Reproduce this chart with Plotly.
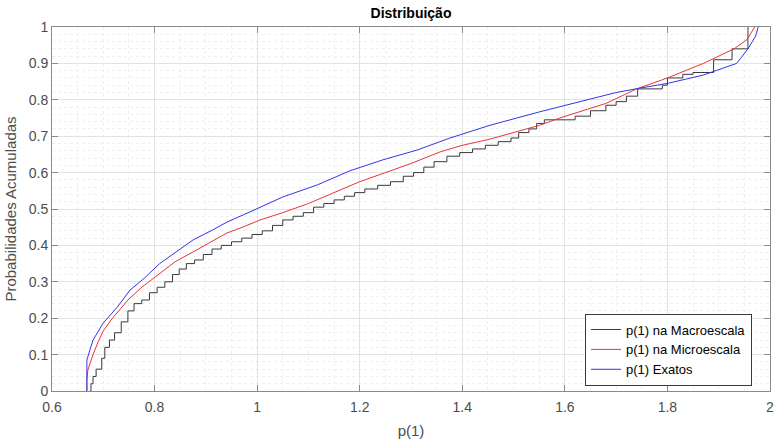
import plotly.graph_objects as go

# Macroescala (empirical CDF, step points)
macro_x = [0.674, 0.676, 0.680, 0.686, 0.697, 0.703, 0.712, 0.722, 0.735, 0.748,
           0.760, 0.775, 0.790, 0.805, 0.820, 0.835, 0.848, 0.862, 0.878, 0.895,
           0.912, 0.930, 0.950, 0.970, 0.990, 1.010, 1.030, 1.050, 1.070, 1.090,
           1.110, 1.130, 1.150, 1.170, 1.190, 1.210, 1.235, 1.260, 1.285, 1.305,
           1.325, 1.345, 1.370, 1.395, 1.420, 1.445, 1.470, 1.495, 1.510, 1.530,
           1.545, 1.560, 1.620, 1.650, 1.680, 1.700, 1.720, 1.742, 1.790, 1.800,
           1.830, 1.850, 1.890, 1.926, 1.957, 1.957]
macro_y = [0.000, 0.020, 0.040, 0.060, 0.090, 0.120, 0.140, 0.160, 0.190, 0.220,
           0.240, 0.250, 0.270, 0.285, 0.300, 0.320, 0.335, 0.350, 0.360, 0.375,
           0.390, 0.400, 0.410, 0.420, 0.430, 0.440, 0.455, 0.470, 0.480, 0.490,
           0.505, 0.515, 0.525, 0.535, 0.545, 0.555, 0.565, 0.575, 0.590, 0.600,
           0.615, 0.630, 0.645, 0.655, 0.665, 0.675, 0.685, 0.695, 0.710, 0.720,
           0.735, 0.745, 0.755, 0.770, 0.785, 0.795, 0.810, 0.830, 0.840, 0.860,
           0.870, 0.875, 0.910, 0.940, 0.990, 1.000]

# Microescala
micro_x = [0.668, 0.668, 0.670, 0.680, 0.690, 0.700, 0.715, 0.727, 0.748, 0.775,
           0.810, 0.840, 0.875, 0.910, 0.941, 0.975, 1.006, 1.050, 1.100, 1.150,
           1.200, 1.250, 1.300, 1.357, 1.400, 1.454, 1.500, 1.551, 1.590, 1.630,
           1.680, 1.740, 1.800, 1.870, 1.930, 1.955, 1.970]
micro_y = [0.000, 0.030, 0.058, 0.100, 0.135, 0.165, 0.195, 0.214, 0.250, 0.285,
           0.324, 0.355, 0.382, 0.410, 0.434, 0.452, 0.470, 0.490, 0.515, 0.545,
           0.575, 0.600, 0.625, 0.657, 0.675, 0.692, 0.710, 0.730, 0.750, 0.767,
           0.790, 0.830, 0.860, 0.900, 0.940, 0.965, 1.000]

# Exatos
exact_x = [0.668, 0.668, 0.680, 0.700, 0.727, 0.752, 0.780, 0.810, 0.840, 0.875,
           0.910, 0.941, 0.986, 1.050, 1.117, 1.181, 1.245, 1.312, 1.376, 1.454,
           1.551, 1.630, 1.700, 1.746, 1.800, 1.870, 1.935, 1.957, 1.972, 1.977]
exact_y = [0.000, 0.085, 0.140, 0.187, 0.230, 0.277, 0.310, 0.350, 0.380, 0.415,
           0.440, 0.464, 0.492, 0.533, 0.566, 0.605, 0.635, 0.662, 0.695, 0.730,
           0.767, 0.794, 0.820, 0.832, 0.845, 0.868, 0.900, 0.940, 0.975, 1.000]

names = ["p(1) na Macroescala", "p(1) na Microescala", "p(1) Exatos"]

FONT = "Liberation Sans, Arial, sans-serif"

fig = go.Figure()
fig.add_trace(go.Scatter(x=macro_x, y=macro_y, mode="lines", name=names[0],
                         line=dict(color="#3a3a3a", width=1, shape="hv")))
fig.add_trace(go.Scatter(x=micro_x, y=micro_y, mode="lines", name=names[1],
                         line=dict(color="#e8343a", width=1)))
fig.add_trace(go.Scatter(x=exact_x, y=exact_y, mode="lines", name=names[2],
                         line=dict(color="#3434e8", width=1)))

axis_common = dict(
    showline=True, linecolor="#8a8a8a", linewidth=1, mirror="ticks",
    ticks="inside", ticklen=6, tickcolor="#8a8a8a",
    showgrid=True, gridcolor="#e3e3e3", gridwidth=1,
    zeroline=False, automargin=False,
    tickfont=dict(family=FONT, size=14, color="#4d4d4d"),
)

fig.update_xaxes(
    range=[0.6, 2], dtick=0.2, tick0=0.6,
    minor=dict(dtick=0.05, showgrid=True, gridcolor="#efefef", griddash="dot", ticks=""),
    title=dict(text="p(1)", font=dict(family=FONT, size=15, color="#4d4d4d"), standoff=11),
    ticklabeloverflow="allow", ticklabelstandoff=3,
    **axis_common,
)
fig.update_yaxes(
    range=[0, 1], dtick=0.1, tick0=0,
    minor=dict(dtick=0.02, showgrid=True, gridcolor="#efefef", griddash="dot", ticks=""),
    title=dict(text="Probabilidades Acumuladas", font=dict(family=FONT, size=15, color="#4d4d4d"), standoff=8),
    **axis_common,
)

fig.update_layout(
    width=774, height=439,
    margin=dict(l=52, r=4, t=27, b=48, autoexpand=False),
    paper_bgcolor="white", plot_bgcolor="white",
    title=dict(text="<b>Distribuição</b>", x=411 / 774, xanchor="center",
               y=1 - 13 / 439, yanchor="middle", yref="container",
               font=dict(family=FONT, size=14, color="#000000")),
    legend=dict(x=0.975, y=0.015, xanchor="right", yanchor="bottom",
                bgcolor="white", bordercolor="#3a3a3a", borderwidth=1,
                font=dict(family=FONT, size=13, color="#000000"),
                itemwidth=30, tracegroupgap=0),
    showlegend=True,
)

fig.write_html("out.html")
